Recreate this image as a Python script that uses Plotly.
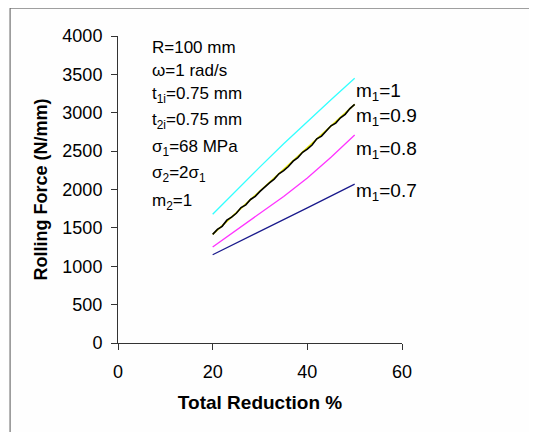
import plotly.graph_objects as go

# ---- data ----
reduction_m1_1 = [20, 25, 30, 35, 40, 45, 50]
force_m1_1 = [1677, 1990, 2295, 2595, 2885, 3170, 3450]

reduction_m1_09 = list(range(20, 51))
force_m1_09 = [1416, 1480, 1520, 1600, 1640, 1690, 1765, 1800, 1870, 1910,
               1975, 2035, 2085, 2135, 2205, 2245, 2300, 2370, 2415, 2485,
               2525, 2580, 2660, 2695, 2760, 2830, 2865, 2935, 2980, 3055, 3110]
reduction_m1_09_under = [20, 30, 40, 50]
force_m1_09_under = [1416, 1980, 2545, 3110]

reduction_m1_08 = [20, 25, 30, 35, 40, 45, 50]
force_m1_08 = [1250, 1470, 1690, 1910, 2150, 2420, 2710]

reduction_m1_07 = [20, 30, 40, 50]
force_m1_07 = [1150, 1450, 1760, 2070]

x_ticks = [0, 20, 40, 60]
y_ticks = [0, 500, 1000, 1500, 2000, 2500, 3000, 3500, 4000]

param_lines = ["R=100 mm", "ω=1 rad/s", "t<sub>1i</sub>=0.75 mm", "t<sub>2i</sub>=0.75 mm",
               "σ<sub>1</sub>=68 MPa", "σ<sub>2</sub>=2σ<sub>1</sub>", "m<sub>2</sub>=1"]
series_labels = ["m<sub>1</sub>=1", "m<sub>1</sub>=0.9", "m<sub>1</sub>=0.8", "m<sub>1</sub>=0.7"]

FONT = "Liberation Sans, Arial, sans-serif"

fig = go.Figure()
fig.add_trace(go.Scatter(x=reduction_m1_1, y=force_m1_1, mode="lines",
                         line=dict(color="#33FFFF", width=1.3), name="m1=1"))
fig.add_trace(go.Scatter(x=reduction_m1_09_under, y=force_m1_09_under, mode="lines",
                         line=dict(color="#E6E600", width=1.6), name="m1=0.9 (under)"))
fig.add_trace(go.Scatter(x=reduction_m1_09, y=force_m1_09, mode="lines",
                         line=dict(color="#000000", width=1.6), name="m1=0.9"))
fig.add_trace(go.Scatter(x=reduction_m1_08, y=force_m1_08, mode="lines",
                         line=dict(color="#FF33FF", width=1.3), name="m1=0.8"))
fig.add_trace(go.Scatter(x=reduction_m1_07, y=force_m1_07, mode="lines",
                         line=dict(color="#1A1A8C", width=1.3), name="m1=0.7"))

annotations = []
param_y = [0.964, 0.889, 0.808, 0.723, 0.635, 0.550, 0.459]
for txt, yy in zip(param_lines, param_y):
    annotations.append(dict(text=txt, x=0.1127, y=yy, xref="paper", yref="paper",
                            xanchor="left", yanchor="middle", showarrow=False,
                            font=dict(family=FONT, size=17, color="#000")))
label_y = [0.818, 0.736, 0.629, 0.492]
for txt, yy in zip(series_labels, label_y):
    annotations.append(dict(text=txt, x=0.832, y=yy, xref="paper", yref="paper",
                            xanchor="left", yanchor="middle", showarrow=False,
                            font=dict(family=FONT, size=19, color="#000")))

fig.update_layout(
    width=529, height=424,
    margin=dict(l=110, r=135, t=28, b=89),
    paper_bgcolor="#FEFEFE", plot_bgcolor="#FEFEFE",
    showlegend=False,
    font=dict(family=FONT, color="#000"),
    annotations=annotations,
    shapes=[dict(type="rect", xref="paper", yref="paper",
                 x0=-0.380, x1=1.49, y0=-0.33, y1=1.091,
                 line=dict(color="#555555", width=1), layer="below")],
)
fig.update_xaxes(range=[0, 60], tickvals=x_ticks, showgrid=False, zeroline=False,
                 showline=True, linecolor="#333333", linewidth=1,
                 ticks="outside", ticklen=6, tickcolor="#333333", ticklabelstandoff=6,
                 tickfont=dict(family=FONT, size=18, color="#000"),
                 title=dict(text="<b>Total Reduction %</b>", standoff=15,
                            font=dict(family=FONT, size=19, color="#000")))
fig.update_yaxes(range=[0, 4000], tickvals=y_ticks, showgrid=False, zeroline=False,
                 showline=True, linecolor="#333333", linewidth=1,
                 ticks="outside", ticklen=6, tickcolor="#333333", ticklabelstandoff=5,
                 tickfont=dict(family=FONT, size=18, color="#000"),
                 title=dict(text="<b>Rolling Force (N/mm)</b>", standoff=10,
                            font=dict(family=FONT, size=18, color="#000")))

fig.write_html("out.html")
